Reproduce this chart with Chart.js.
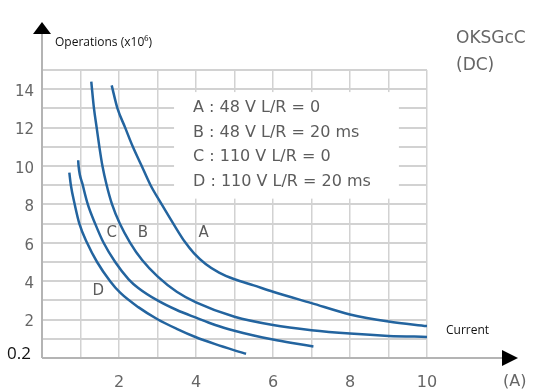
<!DOCTYPE html>
<html>
<head>
<meta charset="utf-8">
<script src="https://cdn.jsdelivr.net/npm/chart.js@4.4.0/dist/chart.umd.min.js"></script>
<style>
  html, body { margin: 0; padding: 0; background: #fff; }
  #wrap { width: 535px; height: 391px; position: relative; }
</style>
</head>
<body>
<div id="wrap"><canvas id="opsChart"></canvas></div>
<script>
// curves: current (A) vs operations (x10^6)
const curveA_x = [1.81, 1.96, 2.16, 2.36, 2.59, 2.82, 3.11, 3.41, 3.71, 3.95, 4.25, 4.6, 5.0, 5.5, 6.0, 7.0, 8.0, 9.0, 10.0];
const curveA_y = [14.2, 13, 12, 11, 10, 9, 8, 7, 6.05, 5.45, 4.9, 4.45, 4.1, 3.78, 3.45, 2.86, 2.27, 1.9, 1.66];

const curveB_x = [1.28, 1.35, 1.42, 1.49, 1.57, 1.68, 1.82, 2.02, 2.29, 2.6, 3.0, 3.5, 4.0, 5.0, 6.0, 7.0, 8.0, 9.0, 10.0];
const curveB_y = [14.4, 13, 12, 11, 10, 9, 8, 7, 6, 5.1, 4.25, 3.45, 2.9, 2.15, 1.72, 1.45, 1.27, 1.15, 1.1];

const curveC_x = [0.94, 0.95, 1.06, 1.19, 1.38, 1.6, 1.9, 2.25, 2.5, 3.0, 3.5, 4.0, 4.5, 5.0, 5.5, 6.0, 6.5, 7.05];
const curveC_y = [10.3, 10, 9, 8, 7, 6, 5, 4.1, 3.65, 3.0, 2.5, 2.1, 1.72, 1.42, 1.17, 0.96, 0.78, 0.6];

const curveD_x = [0.71, 0.75, 0.85, 0.97, 1.17, 1.43, 1.77, 2.03, 2.5, 3.0, 3.5, 4.0, 4.5, 5.0, 5.3];
const curveD_y = [9.65, 9, 8, 7, 6, 5, 4, 3.4, 2.65, 2.02, 1.52, 1.08, 0.72, 0.4, 0.22];

const curveNames = ['A', 'B', 'C', 'D'];
const curveLabelX = [4.2, 2.62, 1.81, 1.46];
const curveLabelY = [6.5, 6.5, 6.5, 3.5];

const legendLines = ['A : 48 V L/R = 0', 'B : 48 V L/R = 20 ms', 'C : 110 V L/R = 0', 'D : 110 V L/R = 20 ms'];
const xTickLabels = [2, 4, 6, 8, 10];
const yTickLabels = [2, 4, 6, 8, 10, 12, 14];

const toPoints = (xs, ys) => xs.map((x, i) => ({ x: x, y: ys[i] }));

const curveColor = '#23649f';
const gridColor = '#d2d2d2';
const axisColor = '#b4b4b4';

const makeCurve = (name, xs, ys) => ({
    label: name,
    data: toPoints(xs, ys),
    borderColor: curveColor,
    borderWidth: 2.5,
    pointRadius: 0,
    fill: false,
    showLine: true,
    cubicInterpolationMode: 'monotone'
});

// white box behind the key, drawn over the grid
const keyBoxPlugin = {
    id: 'keyBox',
    beforeDatasetsDraw(chart) {
        const { ctx, scales: { x, y } } = chart;
        ctx.save();
        ctx.fillStyle = '#fff';
        const left = x.getPixelForValue(3.43), right = x.getPixelForValue(9.27);
        const top = y.getPixelForValue(13.85), bottom = y.getPixelForValue(8.3);
        ctx.fillRect(left, top, right - left, bottom - top);
        ctx.restore();
    }
};

const decorPlugin = {
    id: 'decor',
    afterDraw(chart) {
        const { ctx, chartArea: area, scales: { x, y } } = chart;
        ctx.save();

        // axes, extended past the grid, with arrow heads
        ctx.strokeStyle = axisColor;
        ctx.lineWidth = 2;
        ctx.beginPath();
        ctx.moveTo(area.left, area.bottom);
        ctx.lineTo(area.left, 30);
        ctx.moveTo(area.left, area.bottom);
        ctx.lineTo(503, area.bottom);
        ctx.stroke();

        ctx.fillStyle = '#000';
        ctx.beginPath();
        ctx.moveTo(area.left, 22);
        ctx.lineTo(area.left - 9, 34);
        ctx.lineTo(area.left + 9, 34);
        ctx.closePath();
        ctx.fill();
        ctx.beginPath();
        ctx.moveTo(518, area.bottom);
        ctx.lineTo(502, area.bottom - 8);
        ctx.lineTo(502, area.bottom + 8);
        ctx.closePath();
        ctx.fill();

        // curve letters
        ctx.fillStyle = '#5c5c5c';
        ctx.font = '15px "DejaVu Sans"';
        ctx.textAlign = 'center';
        ctx.textBaseline = 'middle';
        curveNames.forEach((n, i) => {
            ctx.fillText(n, x.getPixelForValue(curveLabelX[i]), y.getPixelForValue(curveLabelY[i]));
        });

        // key
        ctx.textAlign = 'left';
        ctx.font = '16px "DejaVu Sans"';
        legendLines.forEach((t, i) => {
            ctx.fillText(t, 193, 108 + i * 24.5);
        });

        // titles and notes
        ctx.fillStyle = '#111';
        ctx.font = '12px "Open Sans"';
        ctx.fillText('Operations (x10\u2076)', 55, 43);
        ctx.fillText('Current', 446, 331);
        ctx.font = '17px "Open Sans"';
        ctx.fillText('0.2', 7, 354);

        ctx.fillStyle = '#666';
        ctx.font = '17px "DejaVu Sans"';
        ctx.fillText('OKSGcC', 456, 39);
        ctx.fillText('(DC)', 456, 66);
        ctx.font = '16px "DejaVu Sans"';
        ctx.fillText('(A)', 503, 382);

        ctx.restore();
    }
};

new Chart(document.getElementById('opsChart'), {
    type: 'scatter',
    data: {
        datasets: [
            makeCurve('A', curveA_x, curveA_y),
            makeCurve('B', curveB_x, curveB_y),
            makeCurve('C', curveC_x, curveC_y),
            makeCurve('D', curveD_x, curveD_y)
        ]
    },
    options: {
        responsive: true,
        maintainAspectRatio: false,
        animation: false,
        layout: { padding: { left: 0, top: 70, right: 108, bottom: 0 } },
        plugins: {
            legend: { display: false },
            tooltip: { enabled: false }
        },
        scales: {
            x: {
                type: 'linear',
                min: 0,
                max: 10,
                afterFit: s => { s.height = 33; },
                border: { display: false },
                grid: { color: gridColor, lineWidth: 1.5, drawTicks: false },
                ticks: {
                    stepSize: 1,
                    autoSkip: false,
                    maxRotation: 0,
                    padding: 15,
                    color: '#666',
                    font: { family: 'DejaVu Sans', size: 16 },
                    callback: v => xTickLabels.includes(v) ? String(v) : ''
                }
            },
            y: {
                min: 0,
                max: 15,
                afterFit: s => { s.width = 42; },
                border: { display: false },
                grid: { color: gridColor, lineWidth: 2, drawTicks: false },
                ticks: {
                    stepSize: 1,
                    autoSkip: false,
                    padding: 8,
                    labelOffset: 3,
                    color: '#666',
                    font: { family: 'DejaVu Sans', size: 15 },
                    callback: v => yTickLabels.includes(v) ? String(v) : ''
                }
            }
        }
    },
    plugins: [keyBoxPlugin, decorPlugin]
});
</script>
</body>
</html>
